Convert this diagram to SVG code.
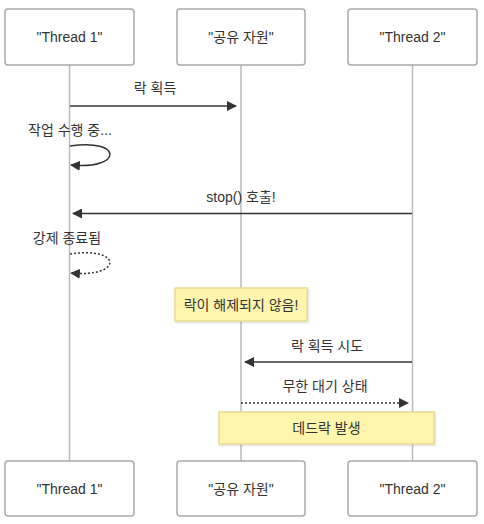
<svg xmlns="http://www.w3.org/2000/svg" width="484" height="524" viewBox="0 0 484 524">
<style>
.actor rect{fill:#fff;stroke:#aaa;stroke-width:1.5}
text{font-family:"Liberation Sans","Noto Sans CJK KR",Arial,sans-serif;font-size:14px;fill:#333;text-anchor:middle}
.life{stroke:#bbb;stroke-width:1.5;fill:none}
.msg{stroke:#333;stroke-width:1.5;fill:none}
.dot{stroke-dasharray:2,2}
.note rect{fill:#fff5ad;stroke:#e6dc8c;stroke-width:1.5}
</style>
<defs>
<marker id="ah" viewBox="0 0 10 10" refX="9" refY="5" markerWidth="10" markerHeight="10" markerUnits="userSpaceOnUse" orient="auto">
<path d="M0,0 L10,5 L0,10 z" fill="#333"/>
</marker>
<filter id="sh" x="-10%" y="-20%" width="130%" height="160%">
<feDropShadow dx="1" dy="1" stdDeviation="1" flood-color="#000" flood-opacity="0.15"/>
</filter>
</defs>
<g id="lifelines">
<line class="life" x1="69.5" y1="65" x2="69.5" y2="461"/>
<line class="life" x1="241" y1="65" x2="241" y2="461"/>
<line class="life" x1="412.5" y1="65" x2="412.5" y2="461"/>
</g>
<g id="actor-t1-top" class="actor"><rect x="5" y="9" width="129" height="56" rx="3"/><text x="69.5" y="42">"Thread 1"</text></g>
<g id="actor-res-top" class="actor"><rect x="177" y="9" width="128" height="56" rx="3"/><text x="241" y="42">"공유 자원"</text></g>
<g id="actor-t2-top" class="actor"><rect x="348" y="9" width="129" height="56" rx="3"/><text x="412.5" y="42">"Thread 2"</text></g>
<g id="actor-t1-bot" class="actor"><rect x="5" y="461" width="129" height="55" rx="3"/><text x="69.5" y="494">"Thread 1"</text></g>
<g id="actor-res-bot" class="actor"><rect x="177" y="461" width="128" height="55" rx="3"/><text x="241" y="494">"공유 자원"</text></g>
<g id="actor-t2-bot" class="actor"><rect x="348" y="461" width="129" height="55" rx="3"/><text x="412.5" y="494">"Thread 2"</text></g>
<g id="note-1" class="note"><rect x="175" y="288" width="132" height="33" filter="url(#sh)"/><text x="241" y="310">락이 해제되지 않음!</text></g>
<g id="note-2" class="note"><rect x="219" y="412" width="215" height="32" filter="url(#sh)"/><text x="326.5" y="433">데드락 발생</text></g>
<g id="connectors">
<text x="155" y="93">락 획득</text>
<line class="msg" x1="70" y1="106" x2="236" y2="106" marker-end="url(#ah)"/>
<text x="70" y="135">작업 수행 중...</text>
<path class="msg" d="M70,146 C123,138 123,170 71,165" marker-end="url(#ah)"/>
<text x="241" y="202">stop() 호출!</text>
<line class="msg" x1="412" y1="213.5" x2="73" y2="213.5" marker-end="url(#ah)"/>
<text x="67" y="243">강제 종료됨</text>
<path class="msg dot" d="M70,254 C123,246 123,278 71,273" marker-end="url(#ah)"/>
<text x="327" y="351">락 획득 시도</text>
<line class="msg" x1="412" y1="362" x2="245" y2="362" marker-end="url(#ah)"/>
<text x="325" y="391">무한 대기 상태</text>
<line class="msg dot" x1="241" y1="403" x2="408" y2="403" marker-end="url(#ah)"/>
</g>
</svg>
